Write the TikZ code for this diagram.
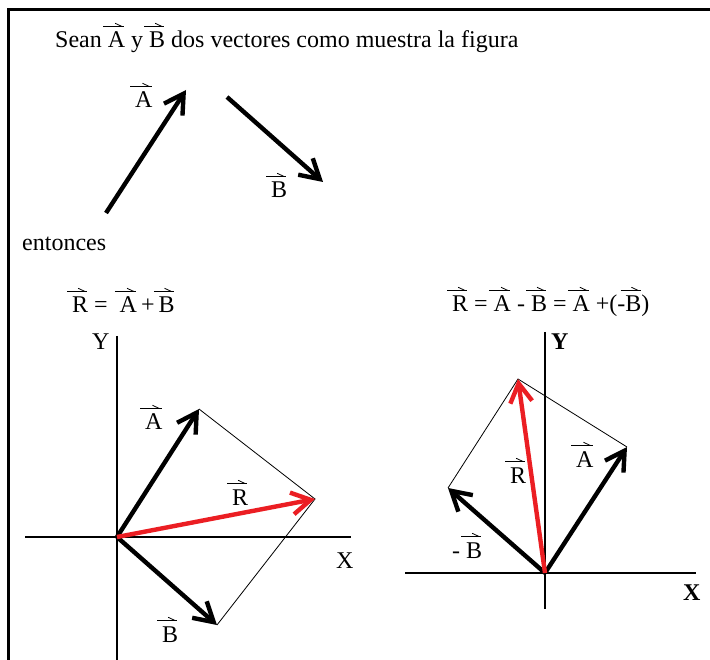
\documentclass[tikz,border=0pt]{standalone}
\usepackage{fontspec}
\setmainfont{Liberation Serif}
\usetikzlibrary{arrows.meta}
\newlength\vecw
\newcommand{\vecx}[1]{\setbox0=\hbox{#1}\vecw=\wd0\relax\leavevmode\rlap{\tikz[overlay,baseline=0pt]{\draw[line width=1.1pt,line cap=butt] (-0.2em,0.9em) -- (\vecw-0.04em,0.9em); \draw[line width=0.8pt] (\vecw-0.42em,1.03em) -- (\vecw-0.14em,0.9em);}}\box0\relax}
\definecolor{vred}{RGB}{235,30,35}
\tikzset{
  every node/.style={font=\fontsize{24}{28}\selectfont, inner sep=0pt, anchor=base west},
  vecarrow/.style={line width=4.4pt, -{Straight Barb[length=19pt,width=22pt]}},
  redarrow/.style={vecarrow, draw=vred},
  thinline/.style={line width=0.8pt},
  axisline/.style={line width=1.4pt},
  bold/.style={font=\fontsize{24}{28}\selectfont\bfseries}
}
\begin{document}
\begin{tikzpicture}[x=1pt,y=-1pt]
\useasboundingbox (0,0) rectangle (710,660);
% frame
\draw[line width=3pt] (710,10) -- (8,10) -- (8,660);

% title
\node (title) at (55,48) {Sean \vecx{A} y \vecx{B} dos vectores como muestra la figura};

% top vectors
\coordinate (tA0) at (106,213);
\coordinate (tA1) at (186,90);
\coordinate (tB0) at (227,97);
\coordinate (tB1) at (323,182);
\draw[vecarrow] (tA0) -- (tA1);
\draw[vecarrow] (tB0) -- (tB1);
\node (tAl) at (135,108) {\vecx{A}};
\node (tBl) at (271,198) {\vecx{B}};
\node (ent) at (22,251) {entonces};

% ===== left diagram =====
\node (eqL) at (72,313) {\vecx{R} = \ \vecx{A}\,+\,\vecx{B}};
\coordinate (LO) at (117,537);
\coordinate (LyT) at (117,336);
\coordinate (LyB) at (117,660);
\coordinate (LxL) at (25,537);
\coordinate (LxR) at (351,537);
\draw[axisline] (LyT) -- (LyB);
\draw[axisline] (LxL) -- (LxR);
\node (LY) at (92,350) {Y};
\node (LX) at (336,568) {X};
\coordinate (LA) at (199,409);
\coordinate (LB) at (217,625);
\coordinate (LR) at (315,499);
\draw[thinline] (LA) -- (LR) -- (LB);
\draw[vecarrow] (LO) -- (LA);
\draw[vecarrow] (LO) -- (LB);
\draw[redarrow] (LO) -- (LR);
\node (LAl) at (145,430) {\vecx{A}};
\node (LRl) at (232,505) {\vecx{R}};
\node (LBl) at (162,642) {\vecx{B}};

% ===== right diagram =====
\node (eqR) at (452,312) {\vecx{R} = \vecx{A} - \vecx{B} = \vecx{A} +(-\vecx{B})};
\coordinate (RO) at (545,573);
\coordinate (RyT) at (545,332);
\coordinate (RyB) at (545,609);
\coordinate (RxL) at (405,573);
\coordinate (RxR) at (696,573);
\draw[axisline] (RyT) -- (RyB);
\draw[axisline] (RxL) -- (RxR);
\node[bold] (RY) at (551,350) {Y};
\node[bold] (RX) at (683,600) {X};
\coordinate (RA) at (627,447);
\coordinate (RB) at (448,488);
\coordinate (RR) at (518,379);
\draw[thinline] (RB) -- (RR) -- (RA);
\draw[vecarrow] (RO) -- (RA);
\draw[vecarrow] (RO) -- (RB);
\draw[redarrow] (RO) -- (RR);
\node (RAl) at (576,467) {\vecx{A}};
\node (RRl) at (510,483) {\vecx{R}};
\node (RBl) at (452,558) {- \vecx{B}};
\end{tikzpicture}
\end{document}
